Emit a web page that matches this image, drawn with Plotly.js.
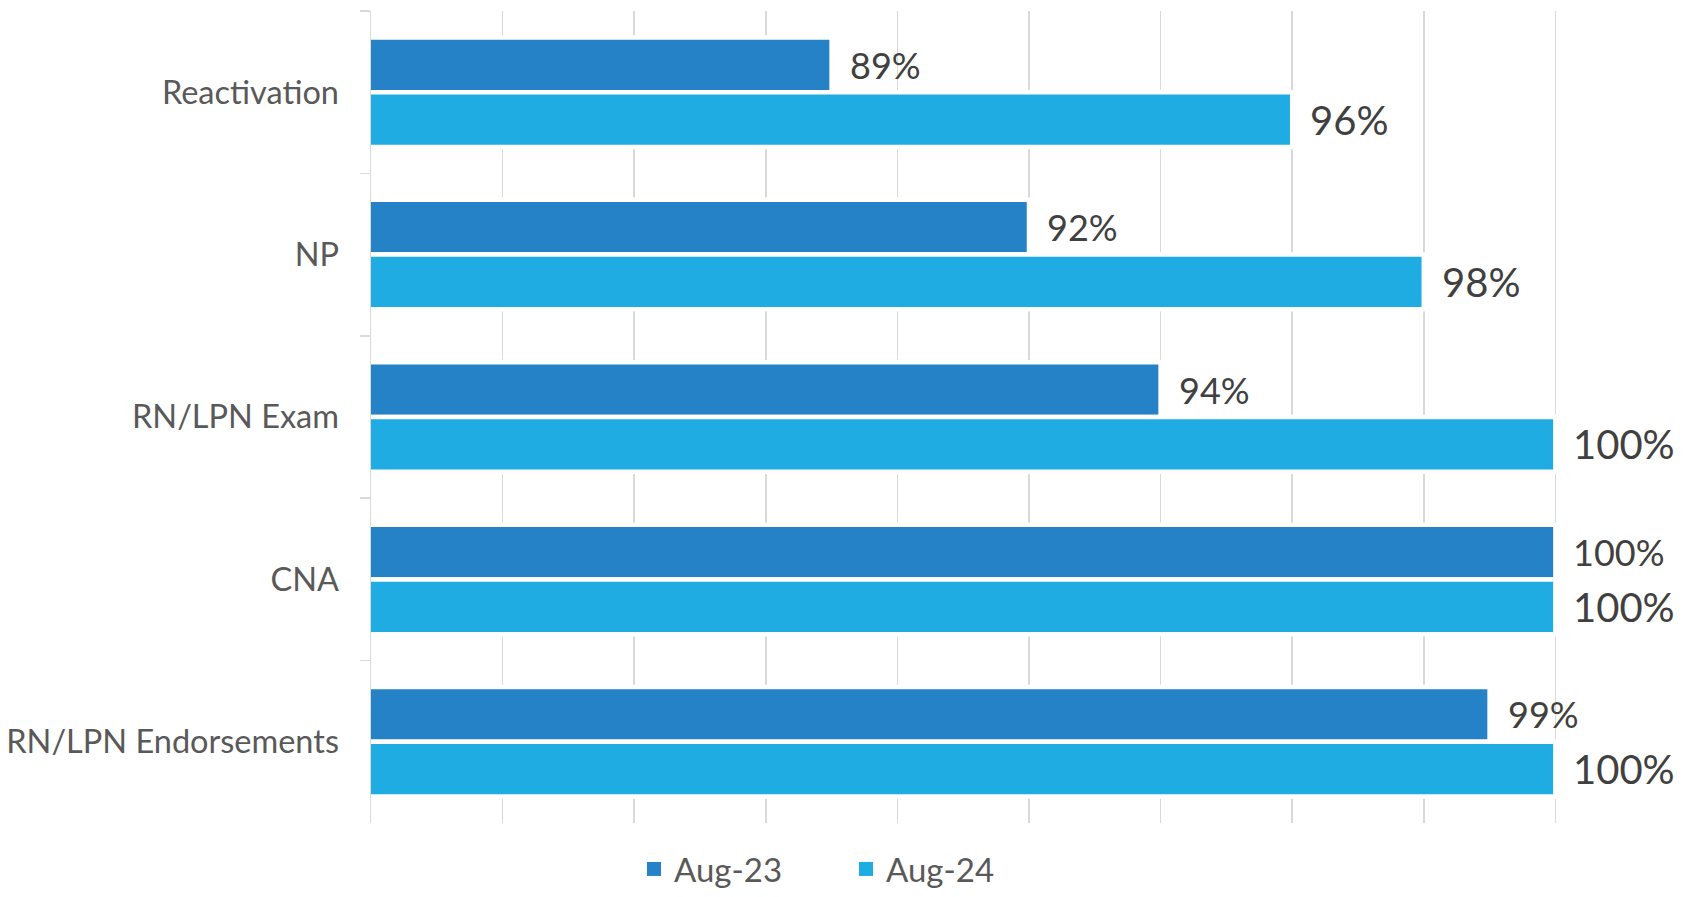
<!DOCTYPE html>
<html>
<head>
<meta charset="utf-8">
<script src="https://cdn.plot.ly/plotly-3.0.1.min.js"></script>
<style>html,body{margin:0;padding:0;background:#fff;}#chart{width:1696px;height:897px;}</style>
</head>
<body>
<div id="chart"></div>
<script>
const categories = ['Reactivation', 'NP', 'RN/LPN Exam', 'CNA', 'RN/LPN Endorsements'];
const seriesNames = ['Aug-23', 'Aug-24'];
const aug23 = [89, 92, 94, 100, 99];
const aug24 = [96, 98, 100, 100, 100];
const xTicks = [82, 84, 86, 88, 90, 92, 94, 96, 98, 100, 102];

const colors = ['#2682C6', '#1EACE2'];
const FONT = 'Lato, "Open Sans", sans-serif';
const series = [aug23, aug24];
const labelSizes = [36, 40];

const traces = series.map((vals, i) => ({
  type: 'bar', orientation: 'h',
  x: vals, y: categories, name: seriesNames[i],
  marker: {color: colors[i], line: {color: '#ffffff', width: 4.5}},
  showlegend: false, hoverinfo: 'x+y'
}));
// legend entries
series.forEach((vals, i) => {
  traces.push({
    type: 'scatter', mode: 'markers', x: [null], y: [null], name: seriesNames[i],
    marker: {symbol: 'square', size: 14, color: colors[i]}, showlegend: true, hoverinfo: 'skip'
  });
});

const annotations = [];
series.forEach((vals, i) => {
  vals.forEach((v, j) => {
    annotations.push({
      x: v, y: categories[j], xref: 'x', yref: 'y',
      text: v + '%', showarrow: false, xanchor: 'left', yanchor: 'middle',
      xshift: 16, yshift: i === 0 ? 27.4 : -27.4,
      font: {family: FONT, size: labelSizes[i], color: '#404040'}
    });
  });
});

const layout = {
  width: 1696, height: 897,
  margin: {l: 371, r: 9, t: 11, b: 74, autoexpand: false},
  paper_bgcolor: '#ffffff', plot_bgcolor: '#ffffff',
  barmode: 'group', bargap: 0.326, bargroupgap: 0,
  font: {family: FONT, color: '#595959'},
  xaxis: {
    range: [xTicks[0], xTicks[xTicks.length - 1]],
    tickmode: 'array', tickvals: xTicks,
    showticklabels: false, ticks: '',
    showgrid: true, gridcolor: '#d9d9d9', gridwidth: 1.5,
    zeroline: false, showline: false, fixedrange: true, automargin: false
  },
  yaxis: {
    type: 'category', autorange: 'reversed',
    categoryorder: 'array', categoryarray: categories,
    ticks: 'outside', tickson: 'boundaries', ticklen: 10, tickwidth: 1.5, tickcolor: '#d9d9d9',
    showline: true, linecolor: '#d9d9d9', linewidth: 1.5,
    showgrid: false, zeroline: false, automargin: false,
    tickfont: {family: FONT, size: 32.5, color: '#595959'},
    ticklabelstandoff: 24, fixedrange: true
  },
  legend: {
    orientation: 'h', xref: 'container', x: 634 / 1696, xanchor: 'left',
    yref: 'container', y: 0, yanchor: 'bottom',
    font: {family: FONT, size: 33, color: '#595959'},
    entrywidthmode: 'pixels', entrywidth: 167,
    bgcolor: 'rgba(0,0,0,0)', borderwidth: 0
  },
  annotations: annotations,
  showlegend: true
};

Plotly.newPlot('chart', traces, layout, {displayModeBar: false, staticPlot: true});
</script>
</body>
</html>
